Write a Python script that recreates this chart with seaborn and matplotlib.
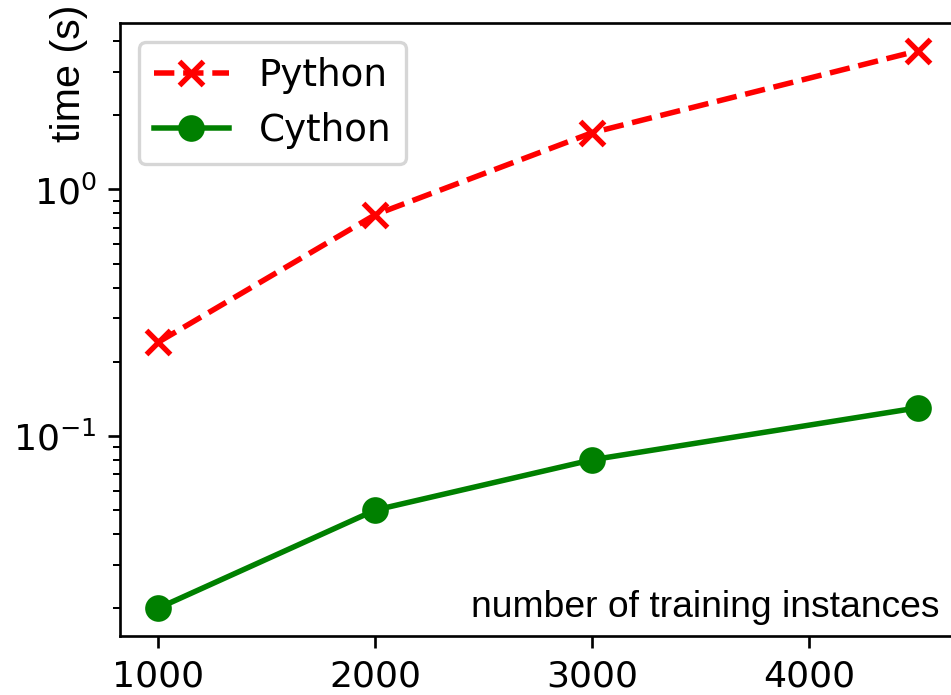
import matplotlib
matplotlib.use("Agg")
import matplotlib.pyplot as plt
import seaborn as sns

# Training set sizes and measured run times (seconds)
n_instances = [1000, 2000, 3000, 4500]
time_python = [0.24, 0.79, 1.70, 3.65]
time_cython = [0.020, 0.050, 0.080, 0.130]

DPI = 240
fig = plt.figure(figsize=(951 / DPI, 695 / DPI), dpi=DPI)
ax = fig.add_axes([0.1265, 0.0849, 0.8785, 0.882])

sns.lineplot(x=n_instances, y=time_python, ax=ax, color="red", linestyle="--",
             marker="x", markersize=7, markeredgecolor="red", markeredgewidth=1.6,
             linewidth=1.65, label="Python")
sns.lineplot(x=n_instances, y=time_cython, ax=ax, color="green", linestyle="-",
             marker="o", markersize=7, markeredgecolor="green", markeredgewidth=1,
             linewidth=1.65, label="Cython")

ax.set_yscale("log")
ax.set_xticks([1000, 2000, 3000, 4000])
ax.tick_params(axis="both", which="major", labelsize=10.9)

label_font = dict(family=["Liberation Sans", "DejaVu Sans"])
ax.set_xlabel("number of training instances", ha="right", va="baseline",
              size=11.2, **label_font)
ax.xaxis.set_label_coords(0.981, 0.031)
ax.set_ylabel("time (s)", va="center", size=12.4, **label_font)
ax.yaxis.set_label_coords(-0.062, 0.918)

ax.legend(loc="upper left", fontsize=11.2)

fig.savefig("out.png", dpi=DPI)
